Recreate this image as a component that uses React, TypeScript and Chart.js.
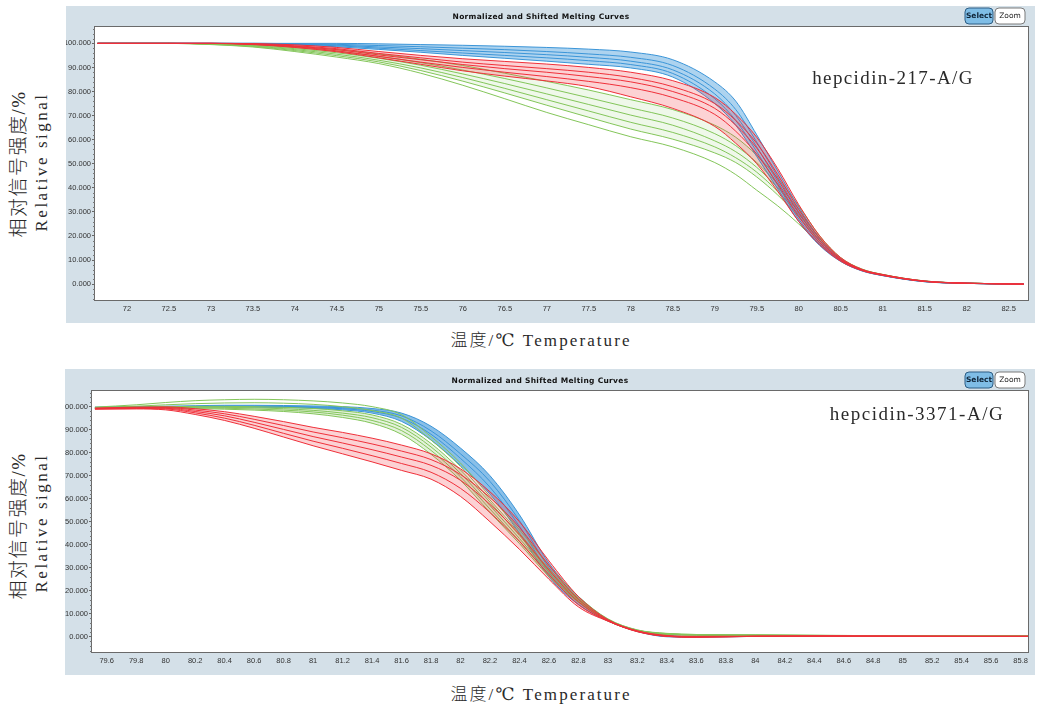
import React, { useEffect, useRef } from "react";
import { Chart, registerables } from "chart.js";

Chart.register(...registerables);

// ---------- tick labels ----------
const Y_TICKS = [0, 10, 20, 30, 40, 50, 60, 70, 80, 90, 100];
const TOP_X_TICKS = [72, 72.5, 73, 73.5, 74, 74.5, 75, 75.5, 76, 76.5, 77, 77.5, 78, 78.5, 79, 79.5, 80, 80.5, 81, 81.5, 82, 82.5];
const BOTTOM_X_TICKS = [79.6, 79.8, 80, 80.2, 80.4, 80.6, 80.8, 81, 81.2, 81.4, 81.6, 81.8, 82, 82.2, 82.4, 82.6, 82.8, 83, 83.2, 83.4, 83.6, 83.8, 84, 84.2, 84.4, 84.6, 84.8, 85, 85.2, 85.4, 85.6, 85.8];

// ---------- top panel: hepcidin-217-A/G ----------
const TOP_TEMPS = [71.65, 72, 72.5, 73, 73.5, 74, 74.5, 75, 75.5, 76, 76.5, 77, 77.5, 78, 78.5, 79, 79.25, 79.5, 79.75, 80, 80.25, 80.5, 80.75, 81, 81.5, 82, 82.68];

const TOP_BLUE = [
  [100, 100, 100, 100, 100, 100, 100, 99.8, 99.5, 99.2, 98.8, 98.3, 97.6, 96.4, 93.2, 84, 76, 62, 47, 32, 19, 10.5, 6, 3.8, 1.2, 0.4, 0],
  [100, 100, 100, 100, 100, 99.9, 99.6, 99.1, 98.6, 98, 97.4, 96.6, 95.6, 94.2, 90.8, 81, 72.5, 59, 44.5, 30, 18, 10, 5.8, 3.7, 1.1, 0.3, 0],
  [100, 100, 100, 100, 100, 99.8, 99.3, 98.5, 97.8, 97, 96.2, 95.3, 94.2, 92.6, 89, 79, 70, 57, 42.5, 28.5, 17, 9.8, 5.7, 3.6, 1.1, 0.3, 0],
  [100, 100, 100, 100, 99.9, 99.6, 99, 98, 97, 96, 95, 94, 92.8, 91.2, 87.5, 77, 68, 55, 41, 27, 16.5, 9.6, 5.6, 3.6, 1, 0.3, 0],
  [100, 100, 100, 100, 99.8, 99.4, 98.6, 97.5, 96.3, 95, 93.8, 92.6, 91.3, 89.8, 86, 75, 66, 53, 39.5, 26, 16, 9.4, 5.5, 3.5, 1, 0.3, 0],
];
const TOP_RED = [
  [100, 100, 100, 100, 99.9, 99.4, 98.3, 96.6, 95, 93.6, 92.5, 91.4, 90, 88, 84.5, 77.5, 70.5, 61, 48, 33, 20, 11, 6.2, 4, 1.3, 0.4, 0],
  [100, 100, 100, 100, 99.8, 99, 97.8, 95.8, 94, 92.2, 90.8, 89.5, 88, 85.8, 82, 75, 68, 58.5, 45.5, 31, 19, 10.5, 6, 3.9, 1.2, 0.4, 0],
  [100, 100, 100, 100, 99.7, 98.8, 97.4, 95.2, 93.2, 91.2, 89.5, 88, 86.2, 84, 80, 73, 66, 56.5, 43.5, 29.5, 18, 10.2, 5.9, 3.8, 1.2, 0.4, 0],
  [100, 100, 100, 100, 99.6, 98.6, 96.9, 94.6, 92.2, 90, 88, 86.2, 84.2, 81.6, 77.5, 70.5, 63.5, 54, 41.5, 28, 17.2, 9.9, 5.8, 3.7, 1.1, 0.3, 0],
  [100, 100, 100, 100, 99.5, 98.3, 96.5, 94, 91.3, 88.6, 86.4, 84.4, 82, 77.8, 73, 65.5, 58.5, 50, 38.5, 26, 16.3, 9.5, 5.6, 3.6, 1.1, 0.3, 0],
];
const TOP_GREEN = [
  [100, 100, 100, 99.9, 99.5, 98.6, 97.4, 95.6, 93.4, 90.8, 87.6, 84.2, 80.6, 76.6, 72.5, 66, 61, 53.5, 44, 32.5, 20, 11, 6.3, 4, 1.3, 0.4, 0],
  [100, 100, 100, 99.8, 99.3, 98.2, 96.7, 94.6, 92, 88.9, 85.4, 81.5, 77.4, 73.2, 69, 62.5, 57.5, 50.5, 41.5, 31, 19.3, 10.8, 6.2, 4, 1.3, 0.4, 0],
  [100, 100, 100, 99.8, 99.1, 97.8, 96.1, 93.8, 90.9, 87.3, 83.3, 79, 74.6, 70.2, 66, 59.5, 55, 48.5, 40, 30, 18.8, 10.5, 6.1, 3.9, 1.2, 0.4, 0],
  [100, 100, 100, 99.7, 98.9, 97.4, 95.5, 93, 89.8, 85.8, 81.3, 76.6, 71.9, 67.2, 63, 57, 52.5, 46.5, 38.5, 29, 18.3, 10.3, 6, 3.9, 1.2, 0.4, 0],
  [100, 100, 100, 99.6, 98.7, 97, 94.9, 92.3, 88.7, 84.3, 79.4, 74.3, 69.3, 64.4, 60.2, 54.5, 50.5, 44.5, 37, 28, 17.8, 10, 5.9, 3.8, 1.2, 0.4, 0],
  [100, 100, 100, 99.5, 98.5, 96.6, 94.3, 91.6, 87.6, 82.6, 77, 71.3, 66.2, 61.2, 57, 50.5, 45.5, 39, 32.5, 25, 16.5, 9.5, 5.8, 3.7, 1.1, 0.3, 0],
];

// ---------- bottom panel: hepcidin-3371-A/G ----------
const BOTTOM_TEMPS = [79.52, 79.8, 80, 80.2, 80.4, 80.6, 80.8, 81, 81.2, 81.4, 81.6, 81.8, 82, 82.2, 82.4, 82.6, 82.8, 83, 83.2, 83.4, 83.6, 84, 84.5, 85, 85.5, 85.85];

const BOTTOM_BLUE = [
  [99.8, 100, 100.2, 100.4, 100.6, 100.6, 100.5, 100.3, 100, 99.2, 97.2, 91.5, 82, 70, 53, 32, 17.5, 7.6, 2.8, 0.5, 0.2, 0.5, 0.5, 0.3, 0.2, 0.2],
  [99.6, 99.9, 100, 100.1, 100.2, 100.2, 100.1, 99.9, 99.5, 98.5, 96, 89.5, 79.5, 67.5, 50.5, 30, 16.3, 7.3, 2.6, 0.4, 0.1, 0.4, 0.4, 0.3, 0.2, 0.2],
  [99.5, 99.8, 99.9, 100, 100, 100, 99.9, 99.6, 99.1, 97.9, 95, 88, 77.5, 65, 48, 28, 15.2, 7.1, 2.5, 0.2, 0, 0.3, 0.4, 0.3, 0.2, 0.2],
  [99.3, 99.7, 99.8, 99.9, 99.9, 99.8, 99.6, 99.3, 98.6, 97.2, 93.6, 85.5, 74.5, 62, 45, 26, 14, 6.9, 2.3, 0, -0.2, 0.2, 0.3, 0.2, 0.2, 0.2],
];
const BOTTOM_RED = [
  [99.4, 99.8, 99.9, 99.1, 97.8, 95.8, 93.5, 91, 88.8, 86.3, 83.3, 79.5, 73, 63, 50, 33, 17.5, 7.5, 2.6, 0.6, 0.2, 0.3, 0.4, 0.3, 0.2, 0.2],
  [99.2, 99.6, 99.6, 98.5, 96.9, 94.5, 91.8, 89, 86.5, 83.8, 80.7, 77, 70.5, 60.5, 47.5, 31, 16.3, 7.3, 2.5, 0.4, 0, 0.2, 0.3, 0.3, 0.2, 0.2],
  [99.1, 99.4, 99.3, 97.9, 96, 93.2, 90.1, 87, 84.2, 81.3, 78.1, 74.5, 68, 57.5, 44.5, 29, 15.2, 7.1, 2.4, 0.3, 0, 0.2, 0.3, 0.2, 0.2, 0.2],
  [99, 99.2, 99, 97.3, 95, 91.9, 88.4, 85, 81.9, 78.7, 75.3, 71.5, 64.5, 54, 41.5, 27, 14, 6.9, 2.3, 0.2, -0.1, 0.2, 0.3, 0.2, 0.2, 0.2],
  [98.9, 99, 98.6, 96.6, 94, 90.6, 86.8, 83, 79.5, 76, 72.3, 68.5, 61, 50, 38, 25, 13, 6.8, 2.2, 0.2, -0.2, 0.2, 0.3, 0.2, 0.2, 0.2],
];
const BOTTOM_GREEN = [
  [99.8, 100.8, 101.8, 102.6, 103, 103.2, 103, 102.5, 101.6, 100, 96.5, 87, 75.5, 61, 46.5, 31, 17.5, 7.8, 3, 1.5, 1, 0.8, 0.6, 0.5, 0.4, 0.3],
  [99.6, 100.2, 100.8, 101.3, 101.6, 101.7, 101.5, 101, 100, 98.3, 95, 85.5, 74, 59.5, 45, 29.5, 16.8, 7.6, 2.9, 1.4, 1, 0.8, 0.6, 0.5, 0.4, 0.3],
  [99.5, 99.8, 100, 100.1, 100.1, 100, 99.7, 99.2, 98.2, 96.4, 92.3, 84, 72.5, 58.5, 44, 28.8, 16.4, 7.4, 2.8, 1.3, 0.9, 0.7, 0.6, 0.5, 0.4, 0.3],
  [99.4, 99.7, 99.8, 99.8, 99.7, 99.5, 99.1, 98.4, 97.2, 95.2, 91, 82.5, 71, 57, 42.7, 28, 16, 7.2, 2.7, 1.2, 0.9, 0.7, 0.5, 0.4, 0.4, 0.3],
  [99.3, 99.6, 99.6, 99.5, 99.3, 99, 98.5, 97.7, 96.3, 94, 89.6, 81, 69.5, 55.5, 41.5, 27, 15.5, 7, 2.6, 1.1, 0.8, 0.6, 0.5, 0.4, 0.3, 0.3],
  [99.2, 99.5, 99.4, 99.2, 98.9, 98.5, 97.9, 96.9, 95.3, 92.8, 88, 79.3, 68, 54, 40.5, 26.2, 15, 6.9, 2.5, 1, 0.7, 0.6, 0.5, 0.4, 0.3, 0.3],
];

const BLUE = "#3b95d8";
const RED = "#f0303a";
const GREEN = "#84c65a";
const PANEL_BG = "#d4e0e8";

type Group = { line: string; fill: string; curves: number[][]; fillFrom: number; fillTo: number };

function buildDatasets(temps: number[], groups: Group[]) {
  const ds: any[] = [];
  for (const g of groups) {
    const base = ds.length;
    g.curves.forEach((c, i) => {
      ds.push({
        data: c.map((v, j) => ({ x: temps[j], y: v })),
        borderColor: g.line,
        borderWidth: 1,
        pointRadius: 0,
        cubicInterpolationMode: "monotone",
        backgroundColor: g.fill,
        fill: i === g.fillFrom ? base + g.fillTo : false,
      });
    });
  }
  return ds;
}

function panelPlugin(title: string, btnY: number) {
  return {
    id: "panel",
    beforeDraw(chart: any) {
      const { ctx, chartArea: a, width, height } = chart;
      ctx.save();
      ctx.fillStyle = PANEL_BG;
      ctx.fillRect(0, 0, width, height);
      ctx.fillStyle = "#ffffff";
      ctx.fillRect(a.left, a.top, a.right - a.left, a.bottom - a.top);
      ctx.restore();
    },
    afterDraw(chart: any) {
      const { ctx, chartArea: a, width } = chart;
      const ys = chart.scales.y;
      ctx.save();
      // plot border
      ctx.strokeStyle = "#6a6a6a";
      ctx.lineWidth = 1;
      ctx.strokeRect(a.left - 0.5, a.top - 0.5, a.right - a.left + 1, a.bottom - a.top + 1);
      // minor ticks on y axis
      ctx.strokeStyle = "#777";
      ctx.beginPath();
      for (let v = -6; v <= 106; v += 2) {
        if (v % 10 === 0) continue;
        const y = Math.round(ys.getPixelForValue(v)) + 0.5;
        ctx.moveTo(a.left - 2, y);
        ctx.lineTo(a.left, y);
      }
      ctx.stroke();
      // title
      ctx.fillStyle = "#111";
      ctx.font = 'bold 7.5px "DejaVu Sans"';
      ctx.textAlign = "center";
      ctx.textBaseline = "middle";
      (ctx as any).letterSpacing = "0.3px";
      ctx.fillText(title, 475, a.top / 2 + 1);
      (ctx as any).letterSpacing = "0px";
      // buttons
      const bx = width - 70;
      ctx.beginPath();
      ctx.roundRect(bx, btnY, 28, 16, 4);
      ctx.fillStyle = "#7fbde6";
      ctx.fill();
      ctx.strokeStyle = "#2c5d84";
      ctx.stroke();
      ctx.fillStyle = "#0d2236";
      ctx.font = 'bold 7.5px "DejaVu Sans"';
      ctx.fillText("Select", bx + 14, btnY + 8.5);
      ctx.beginPath();
      ctx.roundRect(bx + 30, btnY, 30, 16, 4);
      ctx.fillStyle = "#ffffff";
      ctx.fill();
      ctx.strokeStyle = "#7a7a7a";
      ctx.stroke();
      ctx.fillStyle = "#222";
      ctx.font = '7.5px "DejaVu Sans"';
      ctx.fillText("Zoom", bx + 45, btnY + 8.5);
      ctx.restore();
    },
  };
}

type PanelProps = {
  left: number;
  top: number;
  width: number;
  height: number;
  area: { left: number; top: number; right: number; bottom: number };
  temps: number[];
  groups: Group[];
  xMin: number;
  xMax: number;
  xTicks: number[];
  btnY: number;
};

function MeltPanel(p: PanelProps) {
  const ref = useRef<HTMLCanvasElement>(null);
  useEffect(() => {
    const tickFont = { family: '"Liberation Sans", Arial, sans-serif', size: 7.5 };
    const chart = new Chart(ref.current as HTMLCanvasElement, {
      type: "line",
      data: { datasets: buildDatasets(p.temps, p.groups) },
      options: {
        animation: false,
        responsive: false,
        events: [],
        layout: { padding: { left: 0, top: p.area.top, right: p.width - p.area.right, bottom: 0 } },
        plugins: { legend: { display: false }, tooltip: { enabled: false }, title: { display: false } },
        scales: {
          x: {
            type: "linear",
            min: p.xMin,
            max: p.xMax,
            afterBuildTicks: (s: any) => {
              s.ticks = p.xTicks.map((v) => ({ value: v }));
            },
            afterFit: (s: any) => {
              s.height = p.height - p.area.bottom;
            },
            grid: { display: false, drawTicks: false },
            border: { display: false },
            ticks: {
              font: tickFont,
              color: "#333",
              padding: 4,
              maxRotation: 0,
              autoSkip: false,
              callback: (v: any) => String(Number(Number(v).toFixed(1))),
            },
          },
          y: {
            type: "linear",
            min: -6.6,
            max: 106.8,
            afterBuildTicks: (s: any) => {
              s.ticks = Y_TICKS.map((v) => ({ value: v }));
            },
            afterFit: (s: any) => {
              s.width = p.area.left;
            },
            grid: { drawOnChartArea: false, drawTicks: true, tickLength: 3, color: "#666" },
            border: { display: false },
            ticks: {
              font: tickFont,
              color: "#333",
              padding: 1,
              autoSkip: false,
              callback: (v: any) => Number(v).toFixed(3),
            },
          },
        },
      } as any,
      plugins: [panelPlugin("Normalized and Shifted Melting Curves", p.btnY) as any],
    });
    return () => chart.destroy();
  }, []);
  return (
    <canvas
      ref={ref}
      width={p.width}
      height={p.height}
      style={{ position: "absolute", left: p.left, top: p.top, width: p.width, height: p.height }}
    />
  );
}

const serif = '"Liberation Serif", "DejaVu Serif", "Noto Sans CJK SC", serif';

function Rotated({ cx, cy, text, size, spacing }: { cx: number; cy: number; text: string; size: number; spacing: number }) {
  return (
    <div
      style={{
        position: "absolute",
        left: cx,
        top: cy,
        transform: "translate(-50%, -50%) rotate(-90deg)",
        whiteSpace: "nowrap",
        fontFamily: serif,
        fontSize: size,
        fontWeight: 300,
        letterSpacing: spacing,
        color: "#2a2a2a",
        lineHeight: 1,
      }}
    >
      {text}
    </div>
  );
}

function Label({ cx, top, text, size, spacing }: { cx: number; top: number; text: string; size: number; spacing: number }) {
  return (
    <div
      style={{
        position: "absolute",
        left: cx,
        top,
        transform: "translateX(-50%)",
        whiteSpace: "nowrap",
        fontFamily: serif,
        fontSize: size,
        fontWeight: 300,
        letterSpacing: spacing,
        color: "#2a2a2a",
        lineHeight: 1,
      }}
    >
      {text}
    </div>
  );
}

export default function App() {
  const topGroups: Group[] = [
    { line: RED, fill: "rgba(240,48,58,0.22)", curves: TOP_RED, fillFrom: 0, fillTo: 4 },
    { line: BLUE, fill: "rgba(59,149,216,0.42)", curves: TOP_BLUE, fillFrom: 0, fillTo: 4 },
    { line: GREEN, fill: "rgba(132,198,90,0.13)", curves: TOP_GREEN, fillFrom: 0, fillTo: 4 },
  ];
  const bottomGroups: Group[] = [
    { line: RED, fill: "rgba(240,48,58,0.22)", curves: BOTTOM_RED, fillFrom: 0, fillTo: 4 },
    { line: GREEN, fill: "rgba(132,198,90,0.22)", curves: BOTTOM_GREEN, fillFrom: 2, fillTo: 5 },
    { line: BLUE, fill: "rgba(59,149,216,0.6)", curves: BOTTOM_BLUE, fillFrom: 0, fillTo: 3 },
  ];
  return (
    <div style={{ position: "absolute", left: 0, top: 0, width: 1037, height: 706, background: "#fff", overflow: "hidden" }}>
      <MeltPanel
        left={66}
        top={6}
        width={969}
        height={317}
        area={{ left: 29, top: 21, right: 962, bottom: 294 }}
        temps={TOP_TEMPS}
        groups={topGroups}
        xMin={71.62}
        xMax={82.73}
        xTicks={TOP_X_TICKS}
        btnY={2}
      />
      <MeltPanel
        left={65}
        top={369}
        width={970}
        height={306}
        area={{ left: 27, top: 22, right: 963, bottom: 283 }}
        temps={BOTTOM_TEMPS}
        groups={bottomGroups}
        xMin={79.5}
        xMax={85.85}
        xTicks={BOTTOM_X_TICKS}
        btnY={3}
      />
      <Label cx={893} top={68} text="hepcidin-217-A/G" size={19} spacing={1.4} />
      <Label cx={917} top={404} text="hepcidin-3371-A/G" size={19} spacing={1.5} />

      <Rotated cx={18} cy={164} text="相对信号强度/%" size={19} spacing={1.5} />
      <Rotated cx={41} cy={162} text="Relative signal" size={17} spacing={2.5} />
      <Label cx={541} top={332} text="温度/℃ Temperature" size={17} spacing={2.1} />

      <Rotated cx={18} cy={526} text="相对信号强度/%" size={19} spacing={1.5} />
      <Rotated cx={41} cy={523} text="Relative signal" size={17} spacing={2.5} />
      <Label cx={541} top={686} text="温度/℃ Temperature" size={17} spacing={2.1} />
    </div>
  );
}
